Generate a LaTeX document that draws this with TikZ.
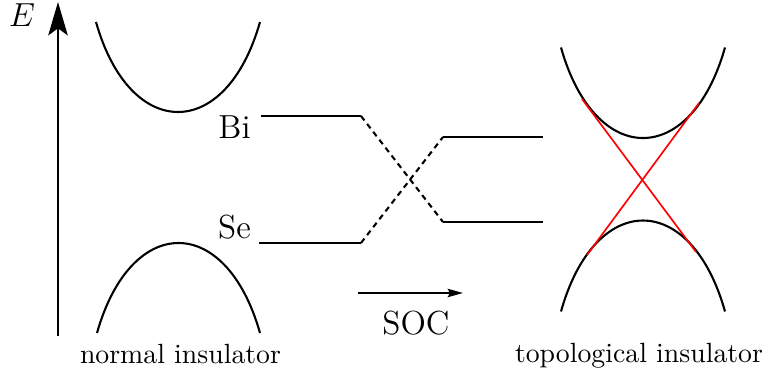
\documentclass[tikz,border=0pt]{standalone}
\usetikzlibrary{arrows.meta}
\begin{document}
\begin{tikzpicture}[x=0.36pt,y=-0.36pt,
  band/.style={line width=0.75pt},
  level/.style={line width=0.75pt},
  dashlevel/.style={line width=0.75pt,dash pattern=on 2pt off 1.6pt},
  dirac/.style={red,line width=0.6pt},
  lbl/.style={font=\large,anchor=base,inner sep=0pt},
  caption/.style={font=\normalsize,anchor=base,inner sep=0pt}]
\useasboundingbox (0,0) rectangle (768,378);
% energy axis
\coordinate (axb) at (58,336);
\coordinate (axt) at (58,2);
\draw[line width=0.75pt,-{Stealth[length=12pt,width=7pt,inset=2.5pt]}] (axb) -- (axt);
\node[inner sep=0pt] (E) at (22,15) {\large$E$};
% normal insulator bands
\draw[band] (96,22) .. controls (130,142) and (226,142) .. (260,22);
\draw[band] (97,333) .. controls (131,213) and (226,213) .. (260,333);
% levels
\coordinate (bi1) at (261,116);
\coordinate (bi2) at (361,116);
\coordinate (bi3) at (443,222);
\coordinate (bi4) at (543,222);
\coordinate (se1) at (259,243);
\coordinate (se2) at (361,243);
\coordinate (se3) at (443,137);
\coordinate (se4) at (543,137);
\draw[level] (bi1) -- (bi2);
\draw[dashlevel] (bi2) -- (bi3);
\draw[level] (bi3) -- (bi4);
\draw[level] (se1) -- (se2);
\draw[dashlevel] (se2) -- (se3);
\draw[level] (se3) -- (se4);
\node[lbl] (Bi) at (234.5,139) {Bi};
\node[lbl] (Se) at (234.5,239) {Se};
% SOC arrow
\coordinate (soca) at (358,293);
\coordinate (socb) at (463,293);
\draw[line width=0.75pt,-{Stealth[length=5.5pt,width=3pt,inset=0.8pt]}] (soca) -- (socb);
\node[lbl] (SOC) at (416,335) {SOC};
% topological insulator bands
\draw[band] (561,47.5) .. controls (595,168.2) and (691,168.2) .. (725,47.5);
\draw[band] (561,311.5) .. controls (595,190.2) and (691,190.2) .. (725,311.5);
\coordinate (r1) at (582,99);
\coordinate (r2) at (696,252);
\coordinate (r3) at (587,255);
\coordinate (r4) at (699,103);
\draw[dirac] (r1) -- (r2);
\draw[dirac] (r3) -- (r4);
% captions
\node[caption] (ni) at (180.5,364) {normal insulator};
\node[caption] (ti) at (639,363) {topological insulator};
\end{tikzpicture}
\end{document}
